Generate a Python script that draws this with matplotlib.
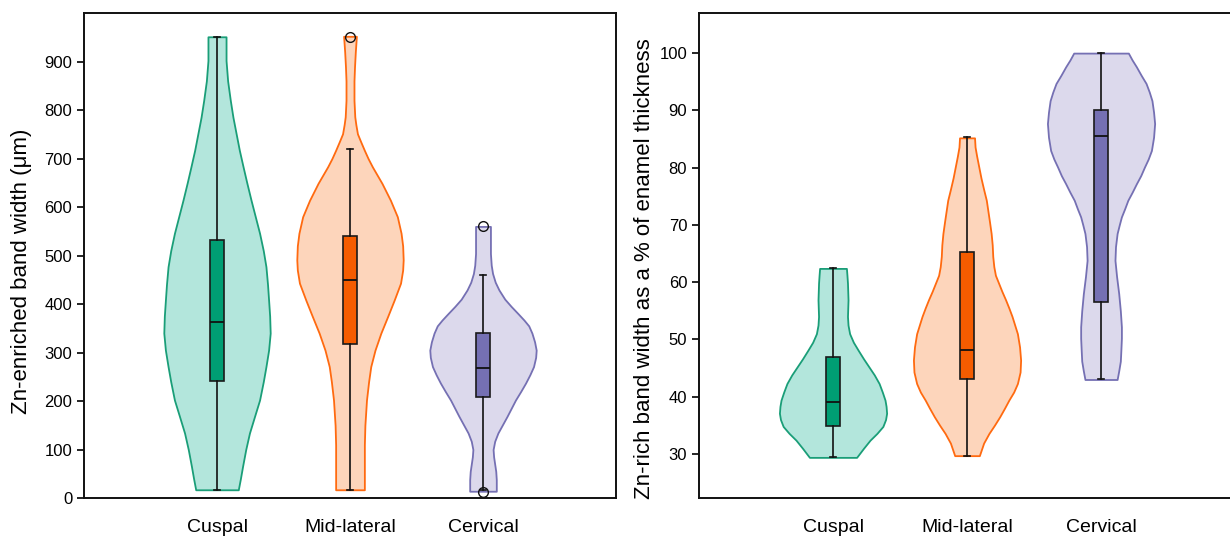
import matplotlib.pyplot as plt
import numpy as np

plt.rcParams['font.family'] = ['Liberation Sans', 'DejaVu Sans']

groups = ['Cuspal', 'Mid-lateral', 'Cervical']
edge_colors = ['#1a9e78', '#ff6a10', '#7570b3']
fill_colors = ['#b3e6dc', '#fdd5bb', '#dcd9ec']
box_colors = ['#009e73', '#f45c00', '#7570b3']

# --- left panel: band width (um) ---
# violin outlines: y levels and relative half width (1 = widest)
width_y = [
    [17, 40, 65, 100, 134, 170, 202, 240, 271, 305, 340, 375, 408, 440, 477,
     510, 546, 580, 614, 650, 683, 717, 751, 785, 820, 860, 902, 951],
    [17, 65, 110, 150, 202, 240, 271, 305, 340, 375, 408, 443, 470, 491, 520,
     546, 580, 614, 649, 683, 700, 717, 735, 751, 770, 786, 820, 860, 889, 920, 952],
    [14, 38, 55, 70, 85, 100, 117, 134, 150, 168, 185, 202, 220, 237, 254, 271,
     290, 305, 322, 340, 355, 367, 380, 395, 410, 429, 445, 463, 480, 504, 560],
]
width_w = [
    [0.40, 0.44, 0.48, 0.54, 0.61, 0.71, 0.80, 0.87, 0.92, 0.97, 1.00, 0.99, 0.97, 0.95, 0.92,
     0.87, 0.80, 0.72, 0.64, 0.56, 0.49, 0.42, 0.36, 0.30, 0.25, 0.20, 0.17, 0.17],
    [0.27, 0.27, 0.27, 0.28, 0.31, 0.35, 0.39, 0.47, 0.58, 0.71, 0.83, 0.95, 0.99, 1.00, 0.99,
     0.96, 0.89, 0.76, 0.60, 0.42, 0.34, 0.27, 0.20, 0.14, 0.11, 0.09, 0.075, 0.075, 0.085, 0.10, 0.12],
    [0.25, 0.25, 0.24, 0.22, 0.20, 0.19, 0.22, 0.28, 0.36, 0.45, 0.53, 0.61, 0.71, 0.80, 0.88, 0.95,
     0.99, 1.00, 0.97, 0.92, 0.86, 0.77, 0.66, 0.53, 0.41, 0.30, 0.23, 0.18, 0.155, 0.14, 0.14],
]
width_q1 = [242, 317, 209]
width_med = [362, 450, 269]
width_q3 = [533, 540, 340]
width_lo = [17, 17, 17]
width_hi = [950, 719, 459]
width_fliers = [[], [950], [560, 13]]

# --- right panel: band width as % of enamel thickness ---
pct_y = [
    [29.4, 31.0, 32.4, 33.6, 34.8, 36.0, 37.1, 38.3, 39.4, 40.8, 42.3, 43.8, 45.2,
     46.6, 48.1, 49.5, 51.0, 52.5, 54.0, 56.9, 59.8, 61.2, 62.4],
    [29.7, 30.8, 31.9, 33.6, 35.0, 36.5, 38.0, 39.4, 40.8, 42.3, 44.3, 46.4, 48.7,
     51.0, 52.5, 54.0, 55.5, 56.9, 58.4, 59.8, 61.2, 62.7, 64.5, 66.5, 68.5, 70.5,
     72.4, 74.3, 76.2, 78.2, 80.1, 82.0, 83.6, 85.2],
    [43.0, 44.5, 46.2, 48.1, 50.2, 52.2, 55.0, 58.0, 61.0, 63.8, 66.2, 68.5, 70.0,
     71.4, 72.8, 74.3, 75.7, 77.2, 78.6, 80.1, 81.5, 83.0, 85.3, 87.7, 89.7, 91.7,
     93.2, 94.7, 96.1, 97.6, 98.8, 100.0],
]
pct_w = [
    [0.44, 0.57, 0.69, 0.82, 0.93, 0.98, 1.00, 0.99, 0.97, 0.92, 0.86, 0.77, 0.67,
     0.57, 0.47, 0.38, 0.31, 0.28, 0.27, 0.28, 0.27, 0.26, 0.25],
    [0.23, 0.27, 0.31, 0.41, 0.51, 0.61, 0.70, 0.78, 0.87, 0.94, 0.99, 1.00, 0.98,
     0.94, 0.89, 0.84, 0.78, 0.72, 0.65, 0.59, 0.53, 0.50, 0.48, 0.47, 0.45, 0.42,
     0.39, 0.36, 0.31, 0.26, 0.22, 0.18, 0.15, 0.14],
    [0.30, 0.33, 0.36, 0.37, 0.38, 0.38, 0.36, 0.33, 0.29, 0.26, 0.27, 0.30, 0.34,
     0.38, 0.44, 0.50, 0.58, 0.66, 0.74, 0.81, 0.88, 0.94, 0.98, 1.00, 0.98, 0.95,
     0.90, 0.84, 0.75, 0.66, 0.58, 0.51],
]
pct_q1 = [34.9, 43.0, 56.6]
pct_med = [39.1, 48.1, 85.6]
pct_q3 = [47.0, 65.3, 90.0]
pct_lo = [29.4, 29.6, 43.0]
pct_hi = [62.4, 85.3, 100.0]
pct_fliers = [[], [], []]


def draw_panel(ax, ys, ws, q1, med, q3, lo, hi, fliers):
    positions = np.arange(1, len(groups) + 1)
    for i, pos in enumerate(positions):
        y = np.array(ys[i])
        half = 0.4 * np.array(ws[i])
        ax.fill_betweenx(y, pos - half, pos + half, facecolor=fill_colors[i],
                         edgecolor=edge_colors[i], linewidth=1.3, zorder=1)
    stats = []
    for i in range(len(groups)):
        stats.append(dict(med=med[i], q1=q1[i], q3=q3[i], whislo=lo[i],
                          whishi=hi[i], fliers=fliers[i]))
    bp = ax.bxp(stats, positions=positions, widths=0.1, patch_artist=True,
                showfliers=True, capwidths=0.04,
                boxprops=dict(edgecolor='#1a1a1a', linewidth=1.2),
                medianprops=dict(color='#111111', linewidth=1.3),
                whiskerprops=dict(color='#111111', linewidth=1.2),
                capprops=dict(color='#111111', linewidth=1.2),
                flierprops=dict(marker='o', markerfacecolor='none',
                                markeredgecolor='#111111', markersize=7))
    for patch, c in zip(bp['boxes'], box_colors):
        patch.set_facecolor(c)
    for art in bp['boxes'] + bp['medians'] + bp['whiskers'] + bp['caps'] + bp['fliers']:
        art.set_zorder(3)
    ax.set_xlim(0, 4)
    ax.set_xticks(positions)
    ax.set_xticklabels(groups, fontsize=14)
    ax.tick_params(axis='x', length=0, pad=15)
    ax.tick_params(axis='y', labelsize=12, length=5, width=1.2, direction='out')
    for sp in ax.spines.values():
        sp.set_linewidth(1.4)
        sp.set_color('#111111')


fig = plt.figure(figsize=(12.3, 5.38), dpi=100)
ax1 = fig.add_axes([0.0683, 0.0743, 0.4325, 0.9015])
ax2 = fig.add_axes([0.5683, 0.0743, 0.4358, 0.9015])

draw_panel(ax1, width_y, width_w, width_q1, width_med, width_q3,
           width_lo, width_hi, width_fliers)
ax1.set_ylim(0, 1000)
ax1.set_yticks(np.arange(0, 901, 100))
ax1.set_ylabel('Zn-enriched band width (\u03bcm)', fontsize=16)
ax1.yaxis.set_label_coords(-0.097, 0.468)

draw_panel(ax2, pct_y, pct_w, pct_q1, pct_med, pct_q3,
           pct_lo, pct_hi, pct_fliers)
ax2.set_ylim(22.3, 107.0)
ax2.set_yticks(np.arange(30, 101, 10))
ax2.set_ylabel('Zn-rich band width as a % of enamel thickness', fontsize=16)
ax2.yaxis.set_label_coords(-0.082, 0.474)

fig.savefig('out.png', dpi=100)
